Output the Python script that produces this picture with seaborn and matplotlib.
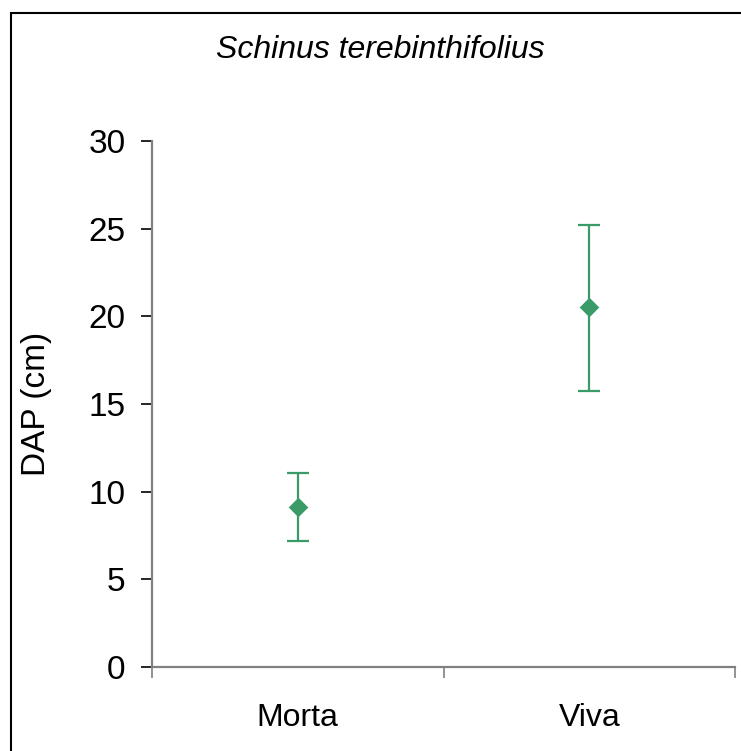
import matplotlib
matplotlib.use("Agg")
import matplotlib.pyplot as plt
import seaborn as sns
import pandas as pd
from matplotlib.patches import Rectangle

categories = ["Morta", "Viva"]
means = [9.13, 20.55]
err_low = [7.19, 15.75]
err_high = [11.07, 25.2]

sns.set_style("white")
plt.rcParams['font.family'] = ['Liberation Sans', 'DejaVu Sans']
plt.rcParams['text.color'] = 'black'
plt.rcParams['xtick.color'] = 'black'
plt.rcParams['ytick.color'] = 'black'
plt.rcParams['axes.labelcolor'] = 'black'

fig = plt.figure(figsize=(7.41, 7.51), dpi=100)
ax = fig.add_axes([152/741, 1-667/751, (735-152)/741, (667-141)/751])

df = pd.DataFrame({"cat": categories, "mean": means})
green = "#3a9a68"
lower = [m - l for m, l in zip(means, err_low)]
upper = [h - m for m, h in zip(means, err_high)]
ax.errorbar([0, 1], means, yerr=[lower, upper], fmt="none", ecolor=green,
            elinewidth=1.6, capsize=8, capthick=1.6, zorder=2)
sns.scatterplot(data=df, x=[0, 1], y="mean", marker="D", color=green, s=100,
                edgecolor=green, linewidth=0, ax=ax, zorder=3)

ax.set_xlim(-0.5, 1.5)
ax.set_ylim(0, 30)
ax.set_yticks(range(0, 31, 5))
ax.set_xticks([-0.5, 0.5, 1.5])
ax.set_xticklabels([])
ax.set_xticks([0, 1], minor=True)
ax.set_xticklabels(categories, minor=True, fontsize=23)
ax.tick_params(axis="x", which="minor", bottom=True, length=0, pad=26, labelcolor="black")
ax.tick_params(axis="x", which="major", bottom=True, length=8, width=1.2, color="#808080", direction="out")
ax.tick_params(axis="y", left=True, length=8, width=1.2, color="black", direction="out",
               pad=11, labelsize=24, labelcolor="black")
ax.set_xlabel("")
ax.set_ylabel("DAP (cm)", fontsize=24, labelpad=26, color="black")

for s in ["top", "right"]:
    ax.spines[s].set_visible(False)
for s in ["left", "bottom"]:
    ax.spines[s].set_color("#808080")
    ax.spines[s].set_linewidth(1.6)

fig.text(380/741, 1-50/751, "Schinus terebinthifolius", fontsize=23, style="italic",
         ha="center", va="center", color="black")

fig.patches.append(Rectangle((11/741, -0.1), 1.2, 1 - 13/751 + 0.1, transform=fig.transFigure,
                             fill=False, edgecolor="black", linewidth=1.5, zorder=10))

fig.savefig("out.png", dpi=100)
